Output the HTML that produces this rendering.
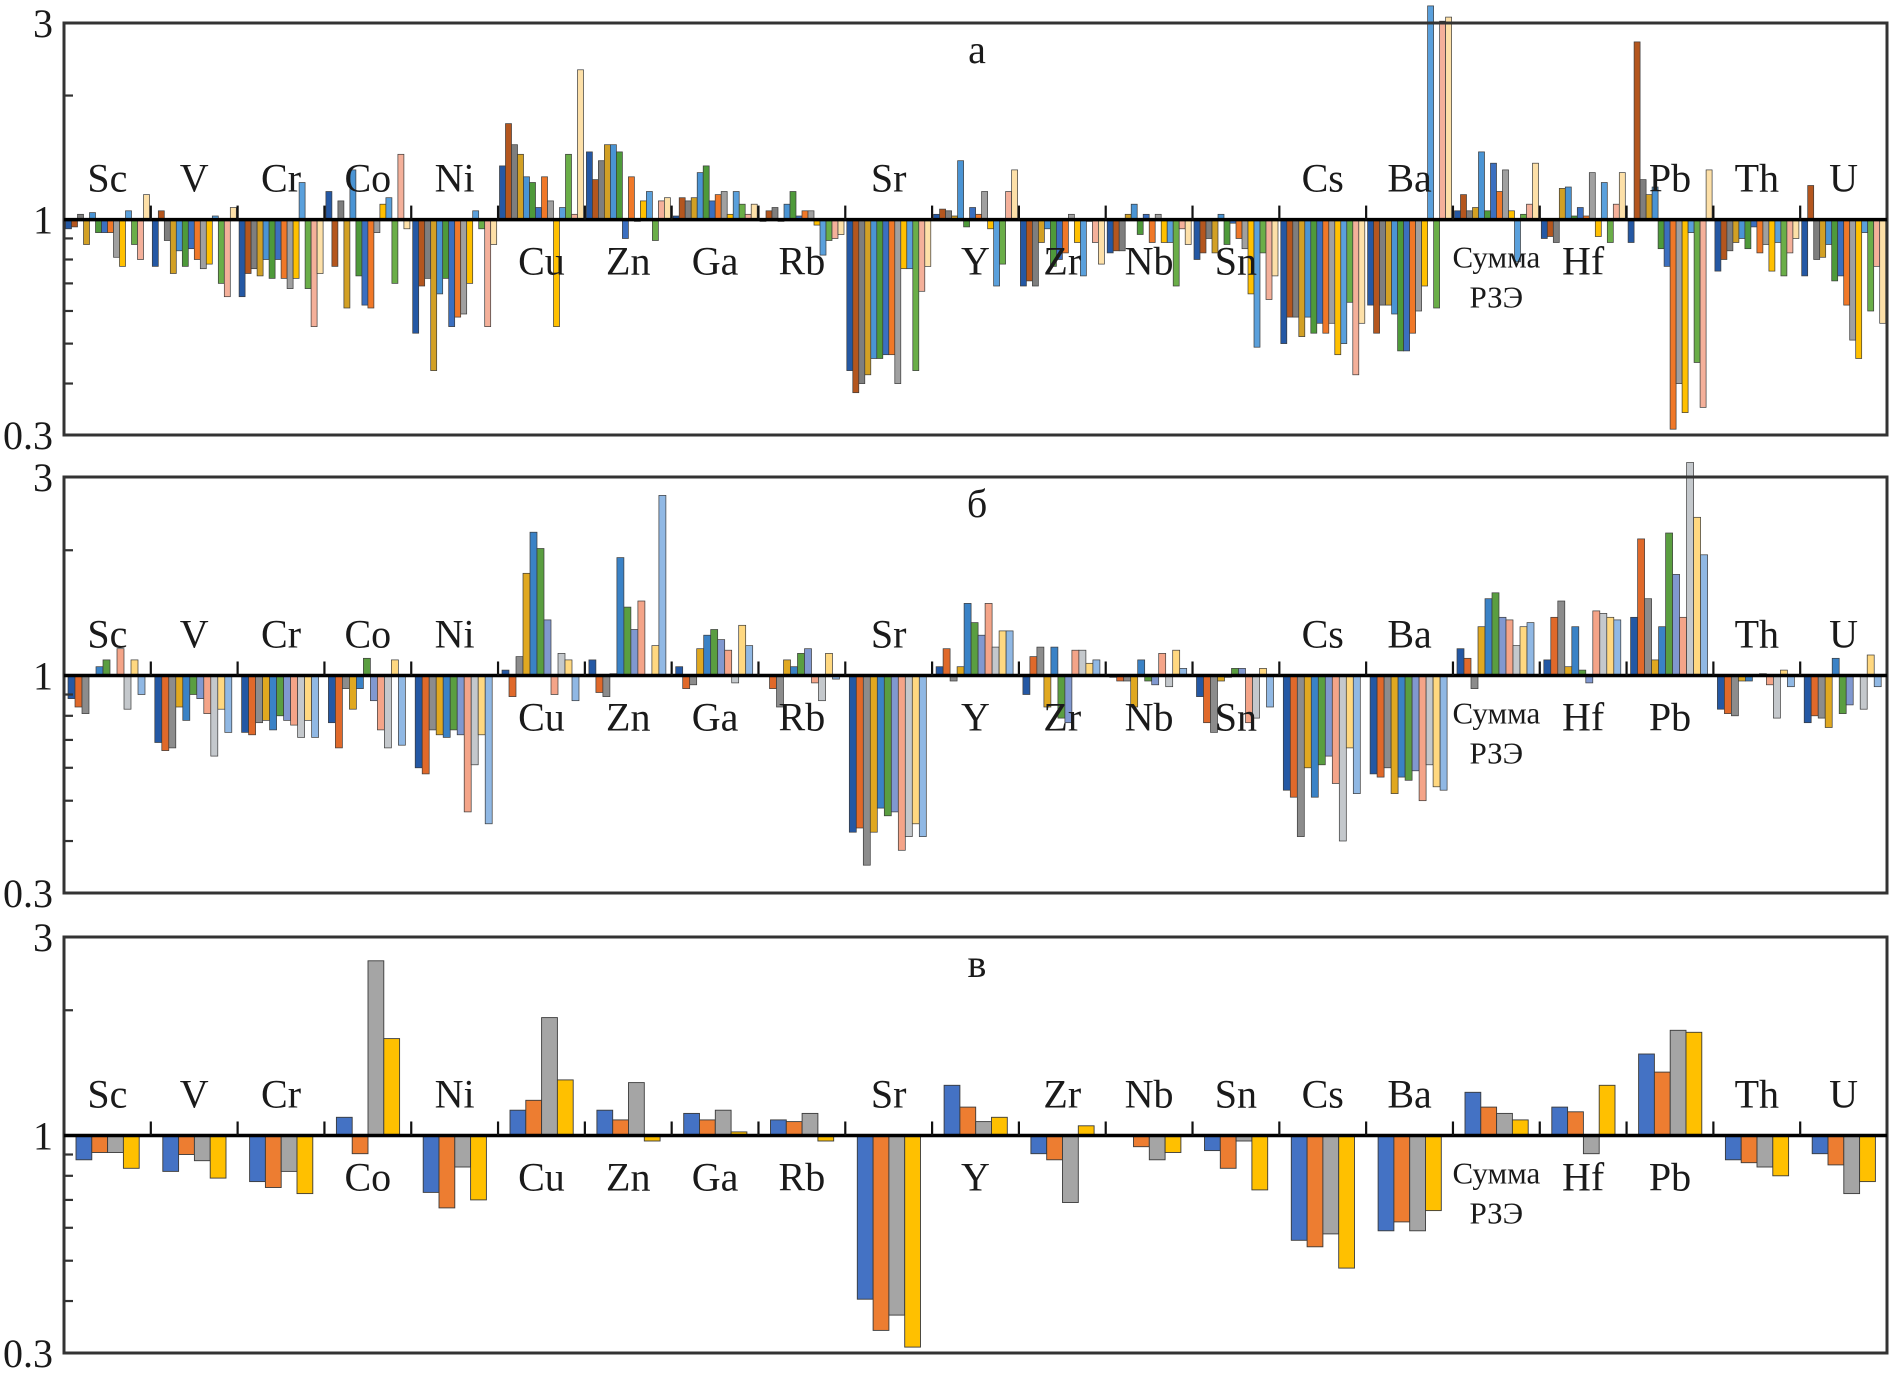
<!DOCTYPE html>
<html><head><meta charset="utf-8">
<style>
html,body{margin:0;padding:0;background:#fff;}
svg{display:block;}
text{font-family:"Liberation Serif","Noto Serif CJK SC",serif;fill:#1a1a1a;}
</style></head>
<body>
<svg id="chart" width="1891" height="1379" viewBox="0 0 1891 1379" xmlns="http://www.w3.org/2000/svg"></svg>
<script>
const categories = ["Sc","V","Cr","Co","Ni","Cu","Zn","Ga","Rb","Sr","Y","Zr","Nb","Sn","Cs","Ba","Сумма РЗЭ","Hf","Pb","Th","U"];
const panelTitles = ["а","б","в"];
const yTickLabels = ["3","1","0.3"];
const yTickValues = [3,1,0.3];
const yMinorTicks = [2,0.9,0.8,0.7,0.6,0.5,0.4];

const seriesA = [
[0.95,0.96,1.03,0.87,1.04,0.93,0.93,0.93,0.81,0.77,1.05,0.87,0.80,1.15],
[0.77,1.05,0.89,0.74,0.84,0.77,0.85,0.80,0.76,0.78,1.02,0.70,0.65,1.07],
[0.65,0.74,0.76,0.73,0.80,0.72,0.80,0.72,0.68,0.72,1.23,0.68,0.55,0.74],
[1.17,0.77,1.11,0.61,1.32,0.73,0.62,0.61,0.93,1.09,1.13,0.70,1.44,0.95],
[0.53,0.69,0.72,0.43,0.66,0.72,0.55,0.58,0.59,0.70,1.05,0.95,0.55,0.87],
[1.35,1.71,1.52,1.44,1.27,1.23,1.07,1.27,1.11,0.55,1.07,1.44,1.03,2.31],
[1.46,1.25,1.39,1.52,1.52,1.46,0.90,1.27,0.99,1.11,1.17,0.89,1.11,1.13],
[1.02,1.13,1.11,1.13,1.30,1.35,1.11,1.15,1.17,1.03,1.17,1.09,1.03,1.09],
[0.99,1.05,1.07,0.99,1.09,1.17,1.02,1.05,1.05,0.97,0.82,0.89,0.90,0.92],
[0.43,0.38,0.40,0.42,0.46,0.46,0.47,0.47,0.40,0.76,0.76,0.43,0.67,0.77],
[1.03,1.06,1.05,1.02,1.39,0.96,1.07,1.03,1.17,0.95,0.69,0.78,1.17,1.32],
[0.69,0.71,0.69,0.88,0.95,0.77,0.80,0.83,1.03,0.88,0.73,0.99,0.88,0.78],
[0.83,0.84,0.84,1.03,1.09,0.92,1.03,0.88,1.03,0.88,0.88,0.69,0.95,0.87],
[0.80,0.83,0.90,0.83,1.03,0.87,0.98,0.90,0.85,0.66,0.49,0.83,0.64,0.73],
[0.50,0.58,0.58,0.52,0.58,0.53,0.56,0.53,0.56,0.47,0.50,0.63,0.42,0.56],
[0.62,0.53,0.62,0.62,0.59,0.48,0.48,0.53,0.60,0.69,3.30,0.61,3.03,3.10],
[1.05,1.15,1.05,1.07,1.46,1.05,1.37,1.17,1.32,1.05,0.79,1.03,1.09,1.37],
[0.90,0.91,0.88,1.19,1.20,1.02,1.07,1.02,1.30,0.91,1.23,0.88,1.09,1.30],
[0.88,2.70,1.25,1.15,1.20,0.85,0.77,0.31,0.40,0.34,0.93,0.45,0.35,1.32],
[0.75,0.80,0.84,0.88,0.90,0.85,0.96,0.83,0.87,0.75,0.88,0.73,0.83,0.90],
[0.73,1.21,0.80,0.81,0.87,0.71,0.73,0.62,0.51,0.46,0.93,0.60,0.77,0.56]
];
const seriesB = [
[0.88,0.84,0.81,1.00,1.05,1.09,1.00,1.16,0.83,1.09,0.90],
[0.69,0.66,0.67,0.84,0.78,0.90,0.88,0.81,0.64,0.83,0.73],
[0.73,0.72,0.77,0.78,0.74,0.80,0.78,0.76,0.71,0.78,0.71],
[0.77,0.67,0.93,0.83,0.93,1.10,0.87,0.74,0.67,1.09,0.68],
[0.60,0.58,0.74,0.72,0.71,0.74,0.72,0.47,0.61,0.72,0.44],
[1.03,0.89,1.11,1.76,2.21,2.02,1.36,0.90,1.13,1.09,0.87],
[1.09,0.91,0.89,1.01,1.92,1.46,1.29,1.51,1.00,1.18,2.71],
[1.05,0.93,0.95,1.16,1.25,1.29,1.22,1.15,0.96,1.32,1.18],
[1.00,0.93,0.84,1.09,1.05,1.13,1.16,0.96,0.87,1.13,0.98],
[0.42,0.43,0.35,0.42,0.48,0.46,0.47,0.38,0.41,0.44,0.41],
[1.05,1.16,0.97,1.05,1.49,1.34,1.25,1.49,1.17,1.28,1.28],
[0.90,1.11,1.17,0.84,1.17,0.79,0.77,1.15,1.15,1.07,1.09],
[0.99,0.97,0.97,0.84,1.09,0.97,0.95,1.13,0.94,1.15,1.04],
[0.89,0.77,0.73,0.97,0.99,1.04,1.04,0.77,0.79,1.04,0.84],
[0.53,0.51,0.41,0.60,0.51,0.61,0.64,0.55,0.40,0.67,0.52],
[0.58,0.57,0.60,0.52,0.57,0.56,0.59,0.50,0.61,0.54,0.53],
[1.16,1.10,0.93,1.31,1.53,1.58,1.38,1.36,1.18,1.31,1.34],
[1.09,1.38,1.51,1.05,1.31,1.03,0.96,1.43,1.41,1.38,1.36],
[1.38,2.13,1.53,1.09,1.31,2.20,1.75,1.38,3.25,2.40,1.95],
[0.83,0.81,0.80,0.97,0.97,1.00,1.01,0.95,0.79,1.03,0.94],
[0.77,0.80,0.79,0.75,1.10,0.81,0.85,1.00,0.83,1.12,0.94]
];
const seriesC = [
[0.874,0.91,0.91,0.834],
[0.82,0.90,0.87,0.79],
[0.775,0.75,0.82,0.725],
[1.106,0.904,2.63,1.71],
[0.73,0.67,0.84,0.70],
[1.15,1.215,1.92,1.36],
[1.15,1.09,1.34,0.97],
[1.13,1.09,1.15,1.02],
[1.09,1.08,1.13,0.97],
[0.404,0.34,0.37,0.31],
[1.32,1.17,1.08,1.106],
[0.904,0.874,0.69,1.055],
[1.0,0.94,0.874,0.91],
[0.92,0.834,0.97,0.74],
[0.56,0.54,0.58,0.48],
[0.59,0.62,0.59,0.66],
[1.27,1.17,1.13,1.09],
[1.17,1.14,0.904,1.32],
[1.57,1.42,1.79,1.77],
[0.874,0.86,0.84,0.80],
[0.904,0.85,0.725,0.775]
];
const labelsDownA = ["Cu","Zn","Ga","Rb","Y","Zr","Nb","Sn","Сумма РЗЭ","Hf"];
const labelsDownB = ["Cu","Zn","Ga","Rb","Y","Zr","Nb","Sn","Сумма РЗЭ","Hf","Pb"];
const labelsDownC = ["Co","Cu","Zn","Ga","Rb","Y","Сумма РЗЭ","Hf","Pb"];

const colorsA = ["#2458a4","#b4561e","#7e7e7e","#d2a024","#4a94d4","#4e9a3a","#3b6fc0","#f07828","#a0a0a0","#ffc000","#5aa0dc","#6aae48","#f4b09a","#fde0a8"];
const colorsB = ["#2458a4","#e0692a","#8c8c8c","#e0a820","#3a82c6","#5a9e40","#8098d0","#f4a488","#c4c8cc","#ffd880","#90b8e4"];
const colorsC = ["#4472c4","#ed7d31","#a5a5a5","#ffc000"];

const NS = "http://www.w3.org/2000/svg";
const svg = document.getElementById("chart");
const X0 = 64, X1 = 1887;
const GW = (X1 - X0) / categories.length;
function mk(tag, attrs, parent) {
  const e = document.createElementNS(NS, tag);
  for (const k in attrs) e.setAttribute(k, attrs[k]);
  (parent || svg).appendChild(e);
  return e;
}
function yScale(top, bottom) {
  const H = bottom - top;
  return v => top + (Math.log10(3) - Math.log10(v)) * H;
}

const panels = [
  {top:23,bottom:435,series:seriesA,colors:colorsA,down:labelsDownA,slot:6.0,off:1.5},
  {top:477,bottom:893,series:seriesB,colors:colorsB,down:labelsDownB,slot:7.0,off:4},
  {top:937,bottom:1353,series:seriesC,colors:colorsC,down:labelsDownC,slot:15.8,off:12}
];

panels.forEach((p, pi) => {
  const y = yScale(p.top, p.bottom);
  const y1 = y(1);
  const g = mk("g", {});
  
  
  p.series.forEach((vals, ci) => {
    const gx = X0 + ci * GW;
    vals.forEach((v, si) => {
      const yv = y(v);
      const r = mk("rect", {
        x: (gx + p.off + si * p.slot).toFixed(1),
        y: Math.min(yv, y1).toFixed(1),
        width: p.slot.toFixed(1),
        height: Math.max(Math.abs(yv - y1), 0.5).toFixed(1),
        fill: p.colors[si % p.colors.length],
        stroke: "#3a3a3a", "stroke-width": pi === 2 ? 0.9 : 0.7
      }, g);
      
      
    });
  });
  const fr = mk("rect", {x:X0, y:p.top, width:X1 - X0, height:p.bottom - p.top, fill:"none", stroke:"#333", "stroke-width":3}, g);
  
  
  const bl = mk("line", {x1:X0, x2:X1, y1:y1, y2:y1, stroke:"#000", "stroke-width":3.5}, g);
  
  
  for (let i = 1; i < categories.length; i++) {
    const t = mk("line", {x1:X0 + i * GW, x2:X0 + i * GW, y1:y1 - 14, y2:y1, stroke:"#111", "stroke-width":2.2}, g);
    
    
  }
  yMinorTicks.forEach(v => {
    const t = mk("line", {x1:X0, x2:X0 + 9, y1:y(v), y2:y(v), stroke:"#333", "stroke-width":2.2}, g);
    
    
  });
  yTickValues.forEach((v, i) => {
    const t = mk("text", {x:53, y:y(v) + 14, "text-anchor":"end", "font-size":40}, g);
    t.textContent = yTickLabels[i];
    
    
  });
  const tt = mk("text", {x:977, y:p.top + 40, "text-anchor":"middle", "font-size":40}, g);
  tt.textContent = panelTitles[pi];
  
  
  categories.forEach((c, ci) => {
    const cx = X0 + (ci + 0.5) * GW;
    const down = p.down.indexOf(c) >= 0;
    if (c === "Сумма РЗЭ") {
      const t1 = mk("text", {x:cx, y:y1 + 48, "text-anchor":"middle", "font-size":31}, g);
      t1.textContent = "Сумма";
      
      
      const t2 = mk("text", {x:cx, y:y1 + 88, "text-anchor":"middle", "font-size":31}, g);
      t2.textContent = "РЗЭ";
      
      
    } else {
      const t = mk("text", {x:cx, y:down ? y1 + 55 : y1 - 28, "text-anchor":"middle", "font-size":40}, g);
      t.textContent = c;
      
      
    }
  });
});
</script>
</body></html>
